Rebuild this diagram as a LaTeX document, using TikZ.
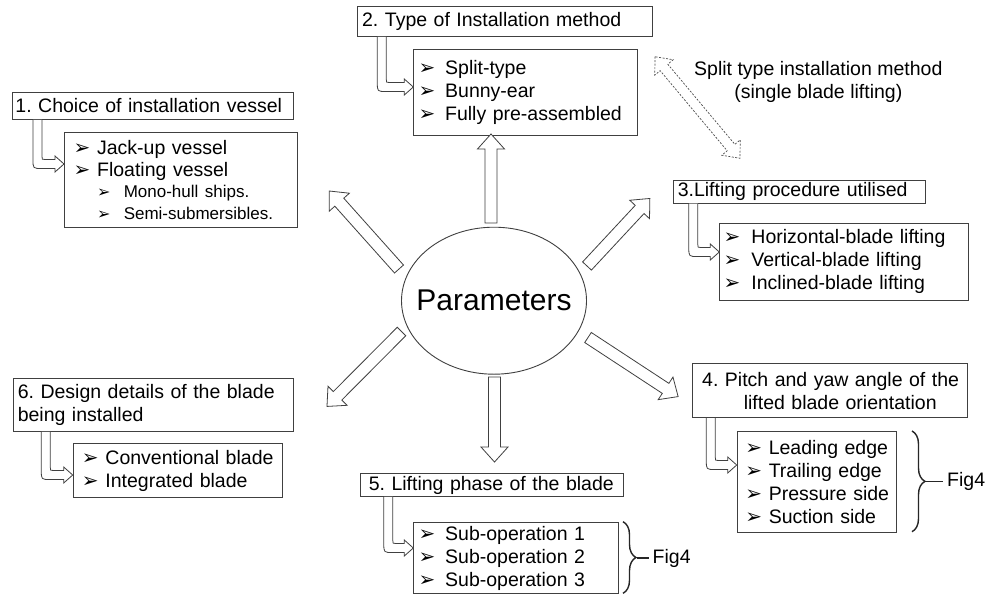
\documentclass[tikz,border=0pt]{standalone}
\usepackage{fontspec}
\setmainfont{Liberation Sans}
\newfontfamily\dingfont{DejaVu Sans}
\usetikzlibrary{shapes.geometric,decorations.pathreplacing,calc}

% list bullet glyphs
\newcommand\bulglyph{{\dingfont\fontsize{20}{20}\selectfont ➢}}
\newcommand\subglyph{{\dingfont\fontsize{16}{16}\selectfont ➢}}
% one list line: bullet in a box of width #1, then the text, never broken
\newcommand\li[2][25pt]{\mbox{\hspace*{1.5pt}\makebox[#1][l]{\bulglyph}\hspace*{-1.5pt}#2}}
\newcommand\subli[1]{\mbox{\hspace*{25pt}\makebox[26.6pt][l]{\subglyph}{\fontsize{17}{21.7}\selectfont #1}}}

% hollow straight arrow from tail #2 to tip #3
\newcommand\fatarrow[3][]{%
  \draw[fatline,#1] let \p1=(#2), \p2=(#3),
    \n1={atan2(\y2-\y1,\x2-\x1)}, \n2={veclen(\x2-\x1,\y2-\y1)} in
    [shift={(\p1)}, rotate=\n1]
    (0pt,-6pt) -- ({\n2-15},-6pt) -- ({\n2-15},-13.5pt) -- (\n2,0pt)
    -- ({\n2-15},13.5pt) -- ({\n2-15},6pt) -- (0pt,6pt) -- cycle;}

% hollow double-headed arrow between #2 and #3
\newcommand\fatdblarrow[3][]{%
  \draw[fatline,#1] let \p1=(#2), \p2=(#3),
    \n1={atan2(\y2-\y1,\x2-\x1)}, \n2={veclen(\x2-\x1,\y2-\y1)} in
    [shift={(\p1)}, rotate=\n1]
    (0pt,0pt) -- (14pt,-12pt) -- (14pt,-5pt) -- ({\n2-14},-5pt) -- ({\n2-14},-12pt)
    -- (\n2,0pt) -- ({\n2-14},12pt) -- ({\n2-14},5pt) -- (14pt,5pt) -- (14pt,12pt) -- cycle;}

% hollow bent arrow: down from title node #1, then right into list node #2
% #3 = shaft offset from the title's left edge, #4 = tip depth below the list's top
\newcommand\bentarrow[4]{%
  \draw[fatline] let \p1=(#1.south west), \p2=(#2.north west),
    \n1={\x1+#3}, \n2={\y2-#4} in
    ({\n1-4.5},\y1) -- ({\n1-4.5},{\n2+4.5})
    .. controls ({\n1-4.5},{\n2-4.5}) .. ({\n1+4.5},{\n2-4.5})
    -- ({\x2-9},{\n2-4.5}) -- ({\x2-9},{\n2-8}) -- (\x2,\n2)
    -- ({\x2-9},{\n2+8}) -- ({\x2-9},{\n2+4.5}) -- ({\n1+7.5},{\n2+4.5})
    .. controls ({\n1+4.5},{\n2+4.5}) .. ({\n1+4.5},{\n2+7.5}) -- ({\n1+4.5},\y1);}

\colorlet{linec}{black!75}
\tikzset{
  fatline/.style={draw=linec, line width=0.8pt, fill=white, line join=miter},
  boxed/.style={draw=linec, line width=0.9pt, anchor=north west, align=left,
    inner ysep=0pt, font=\fontsize{19.5}{23}\selectfont\frenchspacing},
  plain/.style={font=\fontsize{19.5}{23.3}\selectfont\frenchspacing, inner sep=0pt},
  bracestyle/.style={draw=black!85, line width=1.4pt, decorate,
    decoration={brace, amplitude=13pt}},
}

\begin{document}
\begin{tikzpicture}[x=1pt, y=-1pt]
\useasboundingbox (0,0) rectangle (987,600);
\fill[white] (0,0) rectangle (987,600);

% centre
\node[ellipse, draw=linec, line width=0.9pt, minimum width=185pt, minimum height=147pt,
  inner sep=0pt, font=\fontsize{30}{30}\selectfont] (P) at (494,300.7)
  {\makebox[0pt]{Parameters}};

% 1. vessel
\node[boxed, inner xsep=3pt, text width=275pt, minimum height=27pt] (t1) at (12,92)
  {\mbox{1. Choice of installation vessel}};
\node[boxed, inner xsep=7.7pt, text width=217.6pt, minimum height=95pt,
  font=\fontsize{19.5}{21.7}\selectfont\frenchspacing] (l1) at (64,132)
  {\li{Jack-up vessel}\\ \li{Floating vessel}\\
   \subli{Mono-hull ships.}\\ \subli{Semi-submersibles.}};

% 2. installation method
\node[boxed, inner xsep=4.7pt, text width=285.6pt, minimum height=30pt] (t2) at (357,6)
  {\mbox{2. Type of Installation method}};
\node[boxed, inner xsep=3.4pt, text width=216.6pt, minimum height=85.7pt] (l2) at (413.3,49.3)
  {\li[28pt]{Split-type}\\ \li[28pt]{Bunny-ear}\\ \li[28pt]{Fully pre-assembled}};

% 3. lifting procedure
\node[boxed, inner xsep=4pt, text width=243.7pt, minimum height=22.7pt] (t3) at (673.3,180)
  {\mbox{3.Lifting procedure utilised}};
\node[boxed, inner xsep=2.4pt, text width=244.2pt, minimum height=77.3pt] (l3) at (719.3,222.7)
  {\li[29.3pt]{Horizontal-blade lifting}\\ \li[29.3pt]{Vertical-blade lifting}\\
   \li[29.3pt]{Inclined-blade lifting}};

% 4. pitch and yaw
\node[boxed, inner xsep=10pt, text width=255.6pt, minimum height=54pt] (t4) at (691.7,363.3)
  {\mbox{4. Pitch and yaw angle of the}\\ \mbox{\hspace*{41.6pt}lifted blade orientation}};
\node[boxed, inner xsep=6.6pt, text width=146.1pt, minimum height=100.7pt] (l4) at (736.7,431)
  {\li{Leading edge}\\ \li{Trailing edge}\\ \li{Pressure side}\\ \li{Suction side}};

% 5. lifting phase
\node[boxed, inner xsep=8.3pt, text width=246.1pt, minimum height=22.7pt] (t5) at (360,473.3)
  {\mbox{5. Lifting phase of the blade}};
\node[boxed, inner xsep=3.4pt, text width=198.2pt, minimum height=71.6pt] (l5) at (413.3,521.7)
  {\li[28pt]{Sub-operation 1}\\ \li[28pt]{Sub-operation 2}\\ \li[28pt]{Sub-operation 3}};

% 6. blade design
\node[boxed, inner xsep=4pt, text width=272pt, minimum height=52.7pt] (t6) at (13.3,378.3)
  {\makebox[268.7pt][s]{6. Design details of the blade}\\ \mbox{being installed}};
\node[boxed, inner xsep=7.3pt, text width=194.4pt, minimum height=53.4pt] (l6) at (72.7,443.3)
  {\li{Conventional blade}\\ \li{Integrated blade}};

% side note
\node[plain, align=center] (note) at (818.3,81.7)
  {Split type installation method\\ (single blade lifting)};

% arrows leaving the centre
\coordinate (a1) at (399,269);   \coordinate (b1) at (329.3,191);
\coordinate (a2) at (491,223);   \coordinate (b2) at (491,134);
\coordinate (a3) at (587,266);   \coordinate (b3) at (650,198.3);
\coordinate (a4) at (588,337.5); \coordinate (b4) at (678.3,396.7);
\coordinate (a5) at (494.5,377); \coordinate (b5) at (494.5,462);
\coordinate (a6) at (401.5,331.5); \coordinate (b6) at (326.7,406.7);
\fatarrow{a1}{b1}
\fatarrow{a2}{b2}
\fatarrow{a3}{b3}
\fatarrow{a4}{b4}
\fatarrow{a5}{b5}
\fatarrow{a6}{b6}

% dashed link beside the note
\coordinate (d1) at (655,56.7); \coordinate (d2) at (740,158.3);
\fatdblarrow[dash pattern=on 2pt off 1.5pt, line width=0.7pt, draw=black!70]{d1}{d2}

% bent arrows from each heading to its list
\bentarrow{t1}{l1}{25.5}{32}
\bentarrow{t2}{l2}{24.8}{37.7}
\bentarrow{t3}{l3}{20}{29.3}
\bentarrow{t4}{l4}{19.1}{34}
\bentarrow{t5}{l5}{28.3}{26.3}
\bentarrow{t6}{l6}{32.5}{31.7}

% braces to the figure reference
\coordinate (r5a) at (623,521.7); \coordinate (r5b) at (623,593.3);
\draw[bracestyle] (r5a) -- (r5b);
\node[plain, anchor=west] (f5) at (652.5,558) {Fig4};
\draw[line width=1.2pt, black!85] (636.5,558) -- (649,558);
\coordinate (r4a) at (912,431); \coordinate (r4b) at (912,531.7);
\draw[bracestyle] (r4a) -- (r4b);
\node[plain, anchor=west] (f4) at (947,481.7) {Fig4};
\draw[line width=1.2pt, black!85] (925,481.7) -- (943,481.7);
\end{tikzpicture}
\end{document}
